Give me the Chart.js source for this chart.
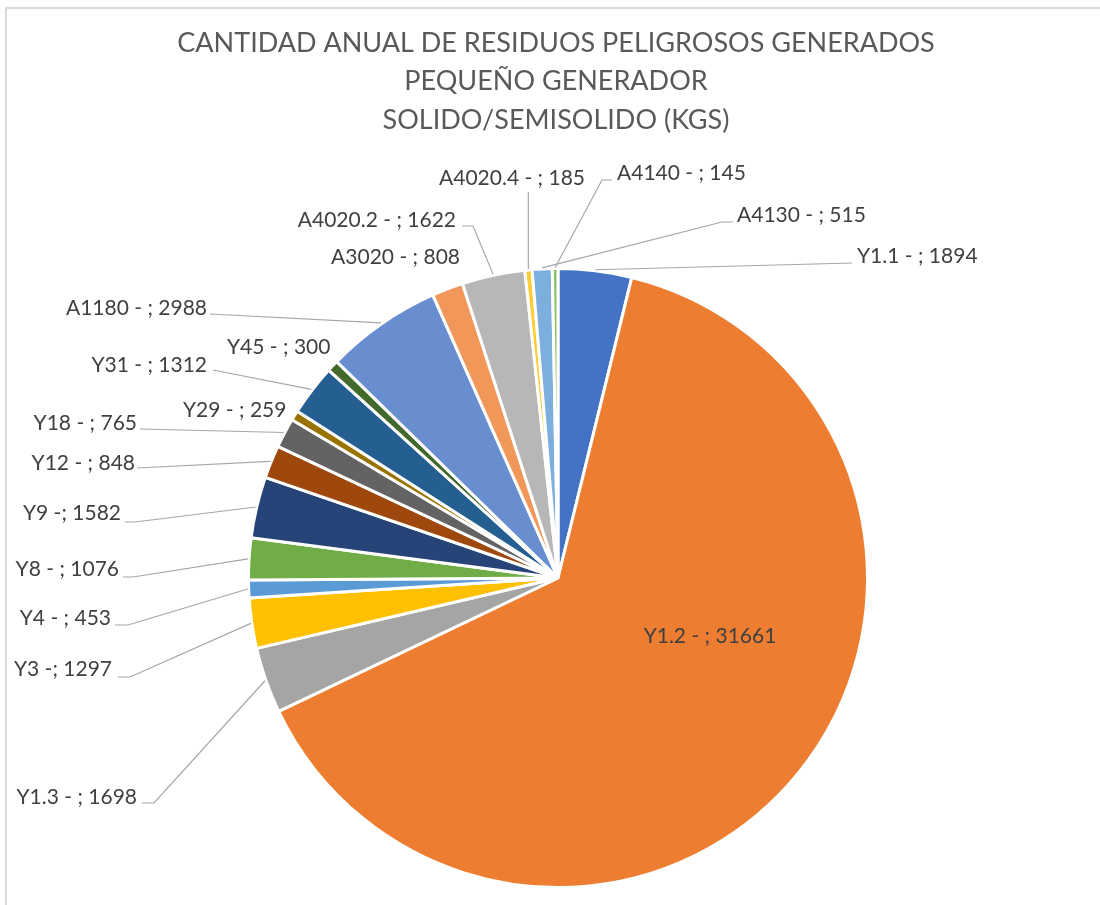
<!DOCTYPE html>
<html>
<head>
<meta charset="utf-8">
<script src="https://cdn.jsdelivr.net/npm/chart.js@4/dist/chart.umd.min.js"></script>
<style>
html,body{margin:0;padding:0;background:#fff;}
#wrap{position:relative;width:1100px;height:905px;}
</style>
</head>
<body>
<div id="wrap"><canvas id="c" width="1100" height="905"></canvas></div>
<script>
// ---- Data ----
const categories = ["Y1.1","Y1.2","Y1.3","Y3","Y4","Y8","Y9","Y12","Y18","Y29","Y31","Y45","A1180","A3020","A4020.2","A4020.4","A4130","A4140"];
const values = [1894,31661,1698,1297,453,1076,1582,848,765,259,1312,300,2988,808,1622,185,515,145];
const labelTexts = ["Y1.1 - ; 1894","Y1.2 - ; 31661","Y1.3 - ; 1698","Y3 -; 1297","Y4 - ; 453","Y8 - ; 1076","Y9 -; 1582","Y12 - ; 848","Y18 - ; 765","Y29 - ; 259","Y31 - ; 1312","Y45 - ; 300","A1180 - ; 2988","A3020 - ; 808","A4020.2 - ; 1622","A4020.4 - ; 185","A4130 - ; 515","A4140 - ; 145"];
const titleLines = ["CANTIDAD ANUAL DE RESIDUOS PELIGROSOS GENERADOS","PEQUEÑO GENERADOR","SOLIDO/SEMISOLIDO (KGS)"];

// ---- Styles ----
const colors = ["#4472C4","#ED7D31","#A5A5A5","#FFC000","#5B9BD5","#70AD47","#264478","#9E480E","#636363","#997300","#255E91","#43682B","#698ED0","#F1975A","#B7B7B7","#FFCD33","#7CAFDD","#8CC168"];
const FONT = "Lato, 'Open Sans', sans-serif";

// ---- Label layout (text anchor x,y, align; elbow point for leader or null; leader flag) ----
const labelLayout = [
  {x:857,y:256,align:"left",  elbow:[852,263], lead:true},
  {x:710,y:636,align:"center",inside:true},
  {x:137,y:797,align:"right", elbow:[154,803], end:[142,803], lead:true},
  {x:112,y:669,align:"right", elbow:[130,677], end:[118,677], lead:true},
  {x:111,y:618,align:"right", elbow:[128,625], end:[115,625], lead:true},
  {x:119,y:569,align:"right", elbow:[133,577], end:[123,577], lead:true},
  {x:121,y:513,align:"right", elbow:[135,522], end:[125,522], lead:true},
  {x:135,y:463,align:"right", elbow:[137,468], lead:true},
  {x:137,y:423,align:"right", elbow:[140,429], lead:true},
  {x:183,y:410,align:"left",  lead:false},
  {x:207,y:365,align:"right", elbow:[213,370], lead:true},
  {x:227,y:347,align:"left",  lead:false},
  {x:207,y:308,align:"right", elbow:[210,314], lead:true},
  {x:460,y:257,align:"right", lead:false},
  {x:456,y:220,align:"right", elbow:[473,226], end:[462,226], lead:true},
  {x:512,y:178,align:"center",elbow:[529,192], lead:true, vertical:true},
  {x:737,y:215,align:"left",  elbow:[722,222], end:[733,222], lead:true},
  {x:617,y:173,align:"left",  elbow:[602,180], end:[612,180], lead:true}
];

const decorPlugin = {
  id:"decor",
  beforeDraw(chart){
    const ctx = chart.ctx;
    ctx.save();
    ctx.fillStyle="#fff";
    ctx.fillRect(0,0,chart.width,chart.height);
    ctx.strokeStyle="#D9D9D9";
    ctx.lineWidth=2;
    ctx.beginPath();
    ctx.moveTo(6,905); ctx.lineTo(6,8); ctx.lineTo(1100,8);
    ctx.stroke();
    // title
    ctx.fillStyle="#595959";
    ctx.font="27px "+FONT;
    ctx.textAlign="center";
    ctx.textBaseline="middle";
    const ty=[43,81,120];
    titleLines.forEach((t,i)=>ctx.fillText(t,556,ty[i]));
    ctx.restore();
  },
  afterDraw(chart){
    const ctx = chart.ctx;
    const meta = chart.getDatasetMeta(0);
    ctx.save();
    ctx.font="21px "+FONT;
    ctx.textBaseline="middle";
    meta.data.forEach((arc,i)=>{
      const L = labelLayout[i];
      const mid = (arc.startAngle+arc.endAngle)/2;
      if (L.lead){
        const r = arc.outerRadius+1;
        const sx = arc.x + Math.cos(mid)*r, sy = arc.y + Math.sin(mid)*r;
        ctx.strokeStyle="#A6A6A6";
        ctx.lineWidth=1.2;
        ctx.beginPath();
        ctx.moveTo(sx,sy);
        if (L.vertical){
          ctx.lineTo(sx, L.elbow[1]);
        } else {
          ctx.lineTo(L.elbow[0],L.elbow[1]);
          if (L.end) ctx.lineTo(L.end[0],L.end[1]);
        }
        ctx.stroke();
      }
      ctx.fillStyle="#404040";
      ctx.textAlign=L.align;
      ctx.fillText(labelTexts[i],L.x,L.y);
    });
    ctx.restore();
  }
};

new Chart(document.getElementById("c"),{
  type:"pie",
  data:{labels:categories,datasets:[{data:values,backgroundColor:colors,borderColor:"#ffffff",borderWidth:3}]},
  options:{
    responsive:false,
    animation:false,
    layout:{padding:{top:267,bottom:16,left:247,right:231}},
    plugins:{legend:{display:false},title:{display:false},tooltip:{enabled:false}}
  },
  plugins:[decorPlugin]
});
</script>
</body>
</html>
